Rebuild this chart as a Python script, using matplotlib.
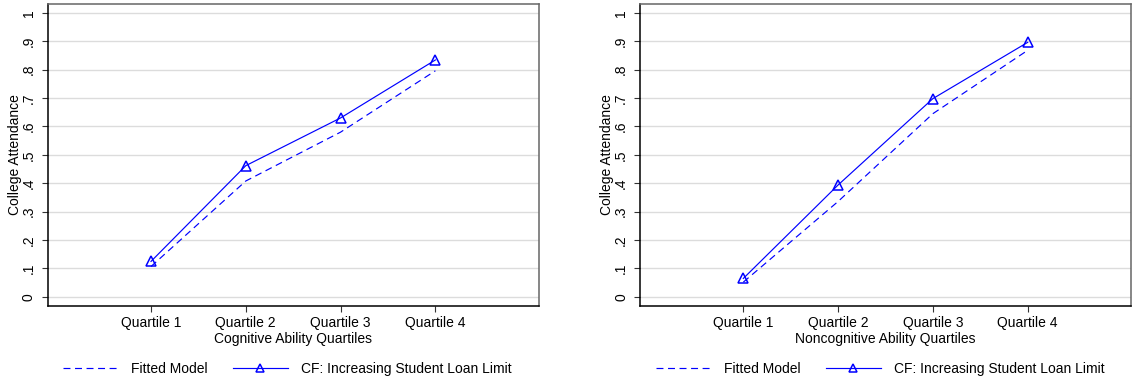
import matplotlib
matplotlib.use('Agg')
import matplotlib.pyplot as plt

plt.rcParams['font.family'] = ['Liberation Sans', 'DejaVu Sans']
plt.rcParams['lines.scale_dashes'] = False

quartiles = [1, 2, 3, 4]
quartile_labels = ['Quartile 1', 'Quartile 2', 'Quartile 3', 'Quartile 4']
yticks = [0, 0.1, 0.2, 0.3, 0.4, 0.5, 0.6, 0.7, 0.8, 0.9, 1.0]
ytick_labels = ['0', '.1', '.2', '.3', '.4', '.5', '.6', '.7', '.8', '.9', '1']

# college attendance by ability quartile
cog_fitted = [0.107, 0.408, 0.580, 0.796]
cog_cf = [0.125, 0.462, 0.630, 0.834]
noncog_fitted = [0.052, 0.336, 0.645, 0.868]
noncog_cf = [0.065, 0.394, 0.698, 0.896]

W, H = 1132, 381
fs = 10
blue = '#0000ff'

fig = plt.figure(figsize=(W / 100, H / 100), dpi=100)

panels = [
    (47.7, cog_fitted, cog_cf, 'Cognitive Ability Quartiles', 287),
    (640, noncog_fitted, noncog_cf, 'Noncognitive Ability Quartiles', 880),
]

for left, fitted, cf, xtitle, leg_x in panels:
    ax = fig.add_axes([left / W, (H - 306) / H, 491 / W, 302 / H])
    ax.plot(quartiles, fitted, color=blue, lw=0.85, dashes=(5, 3.3), label='Fitted Model')
    ax.plot(quartiles, cf, color=blue, lw=0.85, marker='^', ms=7, mfc='none',
            mec=blue, mew=1.1, label='CF: Increasing Student Loan Limit')

    ax.set_xlim(-0.09, 5.09)
    ax.set_ylim(-0.032, 1.031)
    ax.set_xticks(quartiles)
    ax.set_xticklabels(quartile_labels, fontsize=fs)
    ax.set_yticks(yticks)
    ax.set_yticklabels(ytick_labels, fontsize=fs, rotation=90, va='center')
    ax.tick_params(axis='both', direction='out', length=4.5, width=0.8, color='#333333')
    ax.tick_params(axis='x', pad=2.5)
    ax.tick_params(axis='y', pad=4)

    ax.grid(axis='y', color='#dcdcdc', lw=1.0)
    ax.set_axisbelow(True)
    for side in ['left', 'bottom']:
        ax.spines[side].set_color('black')
        ax.spines[side].set_linewidth(1.1)
    for side in ['top', 'right']:
        ax.spines[side].set_color('#666666')
        ax.spines[side].set_linewidth(1.1)

    ax.text(0.5, -(339 - 306) / 302, xtitle, transform=ax.transAxes,
            ha='center', va='center', fontsize=fs)
    ax.text(-33 / 491, 0.5, 'College Attendance', transform=ax.transAxes,
            ha='center', va='center', rotation=90, fontsize=fs)

    ax.legend(loc='center', bbox_to_anchor=(leg_x / W, 12 / H), bbox_transform=fig.transFigure,
              ncol=2, frameon=False, fontsize=fs, handlelength=4.0, handletextpad=0.9,
              columnspacing=1.8, markerscale=0.8)

fig.savefig('out.png', dpi=100)
